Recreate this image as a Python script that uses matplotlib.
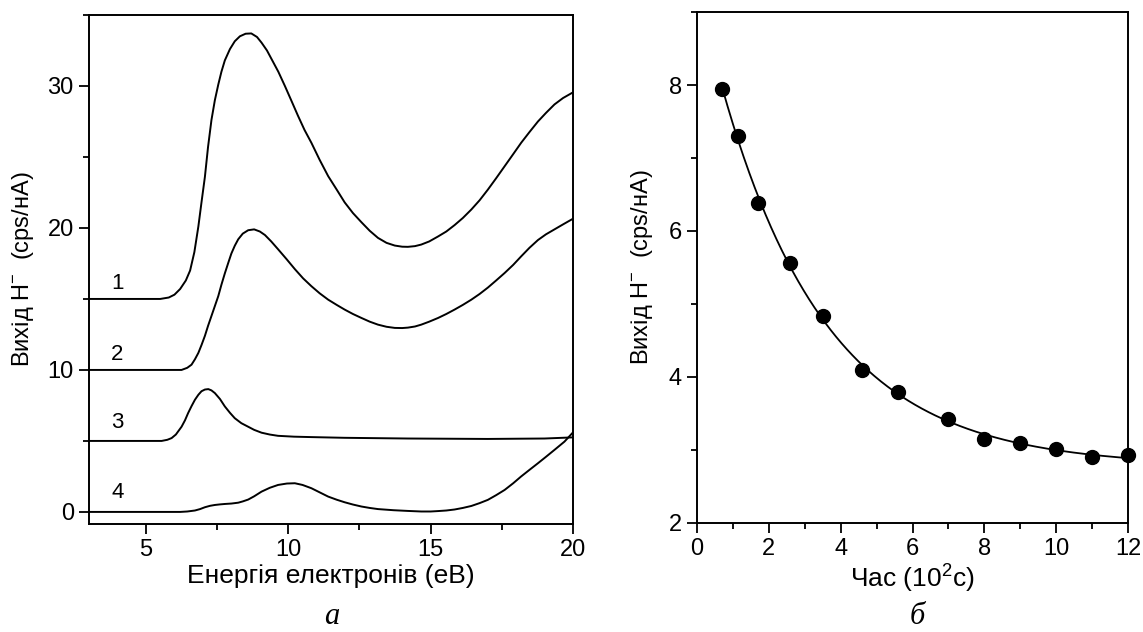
import matplotlib
matplotlib.use("Agg")
import matplotlib.pyplot as plt
from matplotlib.ticker import MultipleLocator
import numpy as np

plt.rcParams['font.family'] = ['Liberation Sans', 'DejaVu Sans']
plt.rcParams['mathtext.fontset'] = 'custom'
plt.rcParams['mathtext.rm'] = 'Liberation Sans'
plt.rcParams['mathtext.it'] = 'Liberation Sans'

# panel a: H- yield vs electron energy (curves)
x1 = [3.0, 5.5, 5.8, 6.0, 6.2, 6.4, 6.55, 6.7, 6.84, 6.95, 7.07, 7.18, 7.3, 7.42, 7.54, 7.65,
      7.77, 7.95, 8.12, 8.3, 8.5, 8.7, 8.9, 9.06, 9.25, 9.41, 9.65, 9.88, 10.1, 10.34, 10.57,
      10.81, 11.1, 11.4, 11.7, 11.98, 12.27, 12.57, 12.86, 13.15, 13.45, 13.74, 14.0, 14.2,
      14.45, 14.67, 14.95, 15.26, 15.55, 15.84, 16.13, 16.43, 16.72, 17.01, 17.3, 17.6, 17.9,
      18.18, 18.47, 18.77, 19.05, 19.35, 19.65, 20.0]
y1 = [15.0, 15.0, 15.1, 15.3, 15.7, 16.3, 17.0, 18.3, 20.1, 21.8, 23.6, 25.7, 27.6, 29.0, 30.1,
      31.0, 31.8, 32.6, 33.15, 33.5, 33.68, 33.7, 33.45, 33.05, 32.5, 31.9, 31.0, 30.0, 29.0,
      27.9, 26.9, 26.0, 24.8, 23.65, 22.7, 21.8, 21.05, 20.4, 19.8, 19.3, 18.95, 18.76, 18.68,
      18.67, 18.72, 18.83, 19.05, 19.4, 19.75, 20.2, 20.7, 21.3, 21.95, 22.7, 23.5, 24.35,
      25.2, 26.0, 26.75, 27.5, 28.1, 28.7, 29.15, 29.55]

x2 = [3.0, 6.25, 6.45, 6.6, 6.72, 6.84, 6.95, 7.07, 7.18, 7.3, 7.42, 7.54, 7.65, 7.77, 7.9,
      8.0, 8.12, 8.24, 8.4, 8.59, 8.8, 9.0, 9.18, 9.4, 9.64, 9.94, 10.23, 10.52, 10.81, 11.1,
      11.4, 11.7, 11.98, 12.27, 12.57, 12.86, 13.15, 13.45, 13.74, 14.0, 14.2, 14.45, 14.67,
      14.95, 15.26, 15.55, 15.84, 16.13, 16.43, 16.72, 17.01, 17.3, 17.6, 17.9, 18.18, 18.47,
      18.77, 19.05, 19.35, 19.65, 20.0]
y2 = [10.0, 10.0, 10.15, 10.37, 10.75, 11.2, 11.75, 12.4, 13.1, 13.8, 14.5, 15.2, 16.0, 16.8,
      17.6, 18.2, 18.75, 19.2, 19.6, 19.84, 19.9, 19.75, 19.5, 19.05, 18.5, 17.8, 17.1, 16.45,
      15.9, 15.4, 14.95, 14.58, 14.25, 13.94, 13.66, 13.4, 13.19, 13.04, 12.96, 12.95, 12.98,
      13.06, 13.19, 13.4, 13.66, 13.94, 14.25, 14.58, 14.95, 15.35, 15.8, 16.3, 16.83, 17.4,
      18.0, 18.6, 19.15, 19.55, 19.9, 20.25, 20.65]

x3 = [3.0, 5.55, 5.75, 5.9, 6.05, 6.25, 6.37, 6.48, 6.6, 6.72, 6.84, 6.95, 7.07, 7.19, 7.3,
      7.42, 7.6, 7.77, 7.95, 8.12, 8.35, 8.59, 8.8, 9.06, 9.35, 9.64, 10.2, 10.81, 11.98, 14.2,
      17.0, 19.0, 20.0]
y3 = [5.0, 5.0, 5.08, 5.2, 5.45, 6.0, 6.45, 6.96, 7.45, 7.9, 8.25, 8.5, 8.62, 8.65, 8.56,
      8.37, 7.95, 7.43, 6.98, 6.6, 6.25, 6.0, 5.78, 5.58, 5.45, 5.36, 5.3, 5.27, 5.22, 5.17,
      5.14, 5.17, 5.25]

x4 = [3.0, 6.2, 6.45, 6.72, 6.9, 7.07, 7.25, 7.42, 7.6, 7.77, 8.0, 8.24, 8.4, 8.59, 8.8, 9.06,
      9.35, 9.64, 9.95, 10.23, 10.5, 10.81, 11.1, 11.4, 11.7, 11.98, 12.27, 12.57, 12.86,
      13.15, 13.7, 14.2, 14.67, 15.0, 15.26, 15.55, 15.84, 16.13, 16.43, 16.72, 17.01, 17.3,
      17.6, 17.9, 18.18, 18.47, 18.77, 19.05, 19.35, 19.7, 20.0]
y4 = [0.0, 0.0, 0.03, 0.1, 0.2, 0.33, 0.43, 0.49, 0.53, 0.56, 0.59, 0.65, 0.74, 0.87, 1.1,
      1.43, 1.7, 1.9, 2.0, 2.02, 1.9, 1.67, 1.38, 1.08, 0.86, 0.68, 0.52, 0.38, 0.28, 0.2,
      0.12, 0.07, 0.03, 0.03, 0.06, 0.1, 0.17, 0.28, 0.42, 0.62, 0.85, 1.18, 1.55, 2.02, 2.5,
      2.96, 3.43, 3.88, 4.37, 4.95, 5.6]

curve_labels = ["1", "2", "3", "4"]
label_y = [16.1, 11.1, 6.3, 1.35]

# panel b: H- yield vs time
t = np.array([0.7, 1.15, 1.7, 2.6, 3.5, 4.6, 5.6, 7.0, 8.0, 9.0, 10.0, 11.0, 12.0])
yld = np.array([7.95, 7.3, 6.38, 5.56, 4.83, 4.1, 3.79, 3.42, 3.15, 3.09, 3.01, 2.91, 2.93])

fig = plt.figure(figsize=(11.43, 6.32), dpi=100)
ax1 = fig.add_axes([0.0779, 0.1709, 0.4234, 0.8054])
ax2 = fig.add_axes([0.6098, 0.1725, 0.3771, 0.8085])

for xs, ys in [(x1, y1), (x2, y2), (x3, y3), (x4, y4)]:
    ax1.plot(xs, ys, color='black', lw=1.4, solid_joinstyle='round')
for lab, ly in zip(curve_labels, label_y):
    ax1.text(4.0, ly, lab, fontsize=16, ha='center', va='center')

ax1.set_xlim(3, 20)
ax1.set_ylim(-0.85, 35)
ax1.xaxis.set_major_locator(MultipleLocator(5))
ax1.xaxis.set_minor_locator(MultipleLocator(2.5))
ax1.yaxis.set_major_locator(MultipleLocator(10))
ax1.yaxis.set_minor_locator(MultipleLocator(5))
ax1.set_xlabel("Енергія електронів (еВ)", fontsize=19, labelpad=2)
ax1.set_ylabel("Вихід H$^{-}$  (cps/нА)", fontsize=17, labelpad=8)

# exponential decay fit through the points
best = None
for tau in np.linspace(0.5, 10, 2000):
    M = np.column_stack([np.ones_like(t), np.exp(-t / tau)])
    coef, res, _, _ = np.linalg.lstsq(M, yld, rcond=None)
    err = np.sum((M @ coef - yld) ** 2)
    if best is None or err < best[0]:
        best = (err, tau, coef)
_, tau, coef = best
tf = np.linspace(t[0], t[-1], 300)
ax2.plot(tf, coef[0] + coef[1] * np.exp(-tf / tau), color='black', lw=1.3)
ax2.plot(t, yld, 'o', color='black', ms=10, clip_on=False, zorder=3)

ax2.set_xlim(0, 12)
ax2.set_ylim(2, 9)
ax2.xaxis.set_major_locator(MultipleLocator(2))
ax2.xaxis.set_minor_locator(MultipleLocator(1))
ax2.yaxis.set_major_locator(MultipleLocator(2))
ax2.yaxis.set_minor_locator(MultipleLocator(1))
ax2.set_xlabel("Час (10$^{2}$c)", fontsize=19, labelpad=2)
ax2.set_ylabel("Вихід H$^{-}$  (cps/нА)", fontsize=17, labelpad=10)

for ax in (ax1, ax2):
    for s in ax.spines.values():
        s.set_linewidth(1.4)
    ax.tick_params(which='major', direction='out', length=7, width=1.3, labelsize=17, pad=4)
    ax.tick_params(which='minor', direction='out', length=4, width=1.3)

fig.text(0.2905, 0.012, "а", fontsize=22, style='italic', family='Liberation Serif', ha='center')
fig.text(0.803, 0.012, "б", fontsize=22, style='italic', family='Liberation Serif', ha='center')

fig.savefig("out.png", dpi=100)
